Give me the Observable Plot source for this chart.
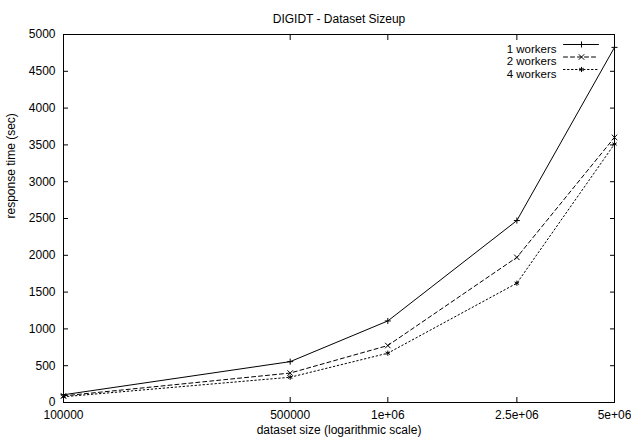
<!DOCTYPE html>
<html><head><meta charset="utf-8">
<script src="https://cdn.jsdelivr.net/npm/d3@7"></script>
<script src="https://cdn.jsdelivr.net/npm/@observablehq/plot@0.6"></script>
<style>html,body{margin:0;padding:0;background:#fff}svg{display:block}</style>
</head><body><div id="chart"></div>
<script>
const title = "DIGIDT - Dataset Sizeup";
const xLabel = "dataset size (logarithmic scale)";
const yLabel = "response time (sec)";
const sizes = [100000, 500000, 1000000, 2500000, 5000000];
const xTickLabels = ["100000", "500000", "1e+06", "2.5e+06", "5e+06"];
const yTicks = [0, 500, 1000, 1500, 2000, 2500, 3000, 3500, 4000, 4500, 5000];
const seriesNames = ["1 workers", "2 workers", "4 workers"];
const workers1 = [105, 555, 1108, 2472, 4825];
const workers2 = [90, 400, 774, 1972, 3602];
const workers4 = [78, 343, 670, 1621, 3512];
const seriesValues = [workers1, workers2, workers4];

const styles = {
  "1 workers": {symbol: "plus", r: 2.1, dash: null},
  "2 workers": {symbol: "times", r: 2.6, dash: "4,3"},
  "4 workers": {symbol: "asterisk", r: 2.4, dash: "1.5,2.5"}
};

const rows = seriesNames.flatMap((name, s) =>
  sizes.map((size, i) => ({series: name, size, time: seriesValues[s][i]})));

const lineShape = {draw(ctx, l) { ctx.moveTo(0, 0); ctx.lineTo(0, -l); }};
const tickLabel = d => xTickLabels[sizes.indexOf(d)];

const marks = [
  Plot.frame({stroke: "black"}),
  Plot.axisX({ticks: sizes, tickFormat: tickLabel, tickSize: -5, tickPadding: 12.5, label: null}),
  Plot.axisX({anchor: "top", ticks: sizes, tickFormat: () => "", tickSize: -5, label: null}),
  Plot.axisY({ticks: yTicks, tickFormat: d => String(d), tickSize: -5, tickPadding: 13, label: null}),
  Plot.axisY({anchor: "right", ticks: yTicks, tickFormat: () => "", tickSize: -5, label: null}),
  Plot.text([title], {frameAnchor: "top", dy: -20, text: d => d}),
  Plot.text([xLabel], {frameAnchor: "bottom", dy: 31, text: d => d}),
  Plot.text([yLabel], {frameAnchor: "left", dx: -52, rotate: -90, text: d => d})
];

seriesNames.forEach((name, s) => {
  const st = styles[name];
  const data = rows.filter(d => d.series === name);
  const ly = 10 + 12.5 * s;
  marks.push(
    Plot.line(data, {x: "size", y: "time", stroke: "black", strokeWidth: 1, strokeDasharray: st.dash}),
    Plot.dot(data, {x: "size", y: "time", symbol: st.symbol, r: st.r, stroke: "black", strokeWidth: 1}),
    Plot.text([name], {frameAnchor: "top-right", dx: -58, dy: ly, textAnchor: "end", fontSize: 11.5, text: d => d}),
    Plot.vector([name], {frameAnchor: "top-right", dx: -51, dy: ly, length: 35, rotate: 90, anchor: "start", shape: lineShape, stroke: "black", strokeWidth: 1, strokeDasharray: st.dash}),
    Plot.dot([name], {frameAnchor: "top-right", dx: -33, dy: ly, symbol: st.symbol, r: st.r, stroke: "black", strokeWidth: 1})
  );
});

const chart = Plot.plot({
  width: 631,
  height: 445,
  marginLeft: 63,
  marginRight: 17,
  marginTop: 34,
  marginBottom: 43,
  style: {fontFamily: "'Liberation Sans', Arial, Helvetica, sans-serif", fontSize: "12px", color: "black", background: "white", overflow: "visible"},
  x: {type: "log", domain: [100000, 5000000]},
  y: {domain: [0, 5000]},
  marks
});
document.getElementById("chart").append(chart);
</script>
</body></html>
